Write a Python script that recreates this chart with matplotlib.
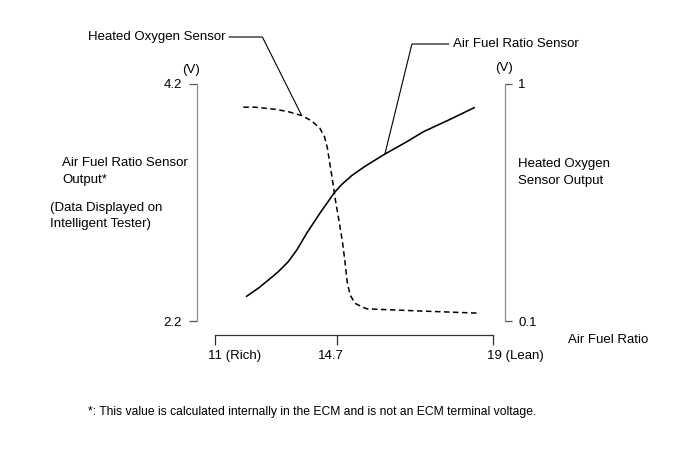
import numpy as np
import matplotlib
matplotlib.use('Agg')
import matplotlib.pyplot as plt
from matplotlib.transforms import ScaledTranslation

plt.rcParams['font.family'] = ['Liberation Sans', 'DejaVu Sans']

# air fuel ratio sensor output (V) vs air fuel ratio
afr_x = [11.94, 12.31, 12.62, 12.92, 13.22, 13.48, 13.63, 13.78, 13.98, 14.18, 14.39, 14.61,
         14.83, 15.11, 15.47, 16.02, 16.62, 17.08, 17.82, 18.50]
afr_v = [2.405, 2.476, 2.546, 2.616, 2.700, 2.799, 2.869, 2.940, 3.024, 3.109, 3.192, 3.280,
         3.352, 3.428, 3.505, 3.609, 3.712, 3.797, 3.902, 4.003]

# heated oxygen sensor output (V) vs air fuel ratio
ho2_x = [11.86, 12.21, 12.52, 12.82, 13.22, 13.63, 13.93, 14.18, 14.32, 14.41, 14.49, 14.57,
         14.66, 14.76, 14.85, 14.92, 14.98, 15.06, 15.20, 15.43, 15.53, 16.99, 18.56]
ho2_v = [0.912, 0.912, 0.908, 0.904, 0.895, 0.880, 0.860, 0.832, 0.800, 0.756, 0.692, 0.629,
         0.553, 0.477, 0.401, 0.325, 0.249, 0.199, 0.167, 0.151, 0.146, 0.138, 0.130]

x_ticks = [11, 14.7, 19]
x_ticklabels = ['11 (Rich)', '14.7', '19 (Lean)']
x_label_shift = [-7, -19, -6]   # px, labels are left aligned
left_ticks = [2.2, 4.2]
right_ticks = [0.1, 1]

W, H = 691, 465
fig = plt.figure(figsize=(W / 100, H / 100), dpi=100)
FS = 9.5

def px(x, y):
    return x / W, 1 - y / H

# schematic x axis: 14.7 is not placed linearly
pos = [0, 122 / 278, 1]
fwd = lambda v: np.interp(v, x_ticks, pos)
inv = lambda u: np.interp(u, pos, x_ticks)

ax = fig.add_axes([215 / W, (H - 321) / H, 278 / W, 237 / H])
ax.set_xscale('function', functions=(fwd, inv))
ax2 = ax.twinx()
ax.set_xlim(11, 19)
ax.set_ylim(2.2, 4.2)
ax2.set_ylim(0.1, 1)
ax.patch.set_visible(False)

ax.plot(afr_x, afr_v, color='black', lw=1.15, solid_capstyle='butt', solid_joinstyle='round')
ax2.plot(ho2_x, ho2_v, color='black', lw=1.1, linestyle=(0, (3.6, 2.3)))

for s in ['top', 'right']:
    ax.spines[s].set_visible(False)
for s in ['top', 'left', 'bottom']:
    ax2.spines[s].set_visible(False)
ax.spines['left'].set_position(('outward', 18 * 0.72))
ax.spines['left'].set_bounds(2.2, 4.2)
ax.spines['left'].set_color('#8a8a8a')
ax.spines['bottom'].set_position(('outward', 14 * 0.72))
ax.spines['bottom'].set_bounds(11, 19)
ax.spines['bottom'].set_color('#303030')
ax2.spines['right'].set_position(('outward', 12 * 0.72))
ax2.spines['right'].set_bounds(0.1, 1)
ax2.spines['right'].set_color('#8a8a8a')
for a in (ax, ax2):
    for s in a.spines.values():
        s.set_linewidth(0.9)

ax.set_yticks(left_ticks, ['2.2', '4.2'])
ax2.set_yticks(right_ticks, ['0.1', '1'])
ax.set_xticks(x_ticks, x_ticklabels)
ax.minorticks_off()
ax2.minorticks_off()
ax.tick_params(axis='y', direction='out', length=6, width=0.9, pad=5, colors='#555555', labelcolor='black', labelsize=FS)
ax2.tick_params(axis='y', direction='out', length=5, width=0.9, pad=4.5, colors='#555555', labelcolor='black', labelsize=FS)
ax.tick_params(axis='x', direction='out', length=7.2, width=0.9, pad=3.6, colors='#303030', labelcolor='black', labelsize=FS)
for lab, dx in zip(ax.get_xticklabels(), x_label_shift):
    lab.set_ha('left')
    lab.set_transform(lab.get_transform() + ScaledTranslation(dx / 100, 0, fig.dpi_scale_trans))

# unit labels
fig.text(*px(191, 70), '(V)', ha='center', va='center', fontsize=FS)
fig.text(*px(504, 68), '(V)', ha='center', va='center', fontsize=FS)

# axis descriptions
fig.text(*px(62, 163), 'Air Fuel Ratio Sensor', ha='left', va='center', fontsize=FS)
fig.text(*px(62, 180), 'Output*', ha='left', va='center', fontsize=FS)
fig.text(*px(50, 208), '(Data Displayed on', ha='left', va='center', fontsize=FS)
fig.text(*px(50, 224), 'Intelligent Tester)', ha='left', va='center', fontsize=FS)
fig.text(*px(518, 164), 'Heated Oxygen', ha='left', va='center', fontsize=FS)
fig.text(*px(518, 181), 'Sensor Output', ha='left', va='center', fontsize=FS)
fig.text(*px(568, 340), 'Air Fuel Ratio', ha='left', va='center', fontsize=FS)
fig.text(*px(88, 412), '*: This value is calculated internally in the ECM and is not an ECM terminal voltage.',
         ha='left', va='center', fontsize=8.7)

# leader lines to the curves
ax2.annotate('Heated Oxygen Sensor', xy=(ho2_x[5], ho2_v[5]), xycoords='data',
             xytext=(225, H - 37), textcoords='figure pixels', ha='right', va='center', fontsize=FS,
             arrowprops=dict(arrowstyle='-', connectionstyle='angle,angleA=0,angleB=116.6,rad=0',
                             shrinkA=1, shrinkB=0, lw=0.8, color='black'))
ax.annotate('Air Fuel Ratio Sensor', xy=(afr_x[15], afr_v[15]), xycoords='data',
            xytext=(453, H - 44), textcoords='figure pixels', ha='left', va='center', fontsize=FS,
            arrowprops=dict(arrowstyle='-', connectionstyle='angle,angleA=0,angleB=76.2,rad=0',
                            shrinkA=1, shrinkB=0, lw=0.8, color='black'))

fig.savefig('out.png', dpi=100)
